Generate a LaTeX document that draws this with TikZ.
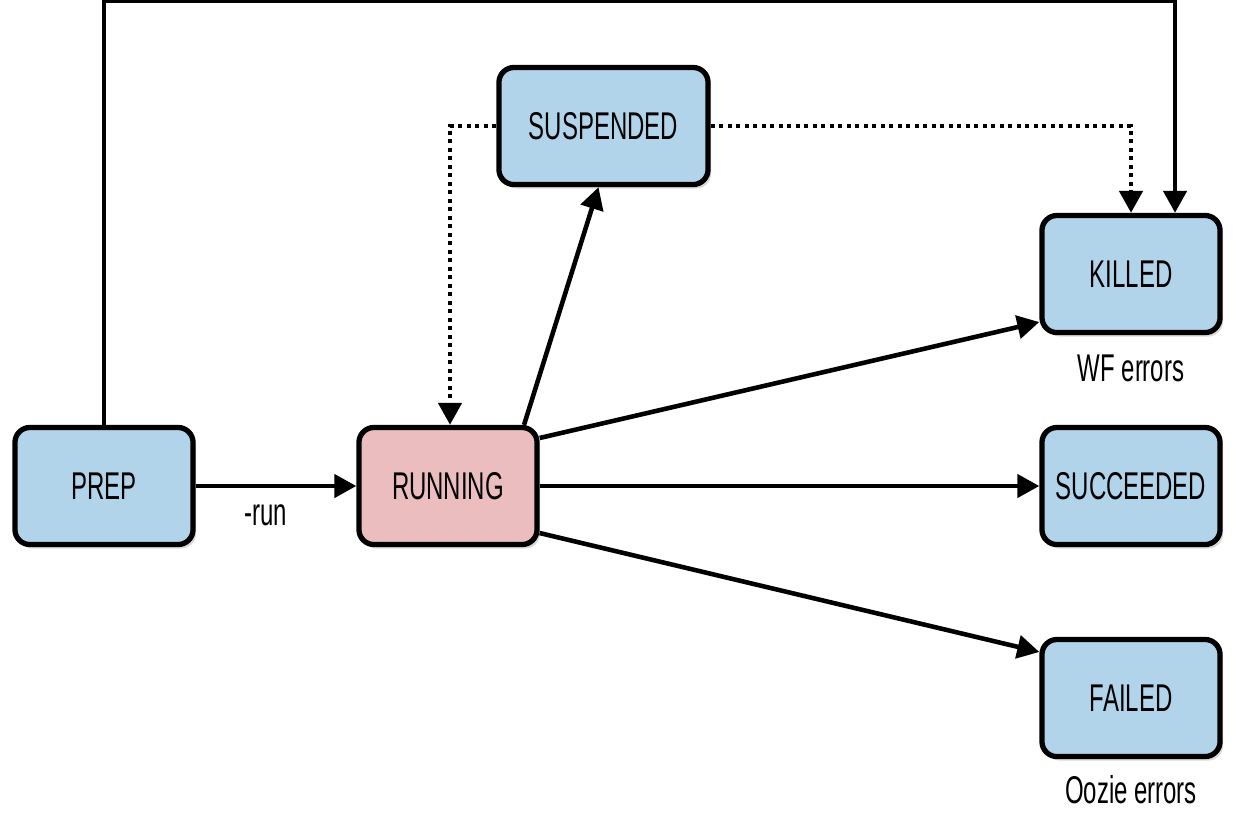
\documentclass[tikz,border=0pt]{standalone}
\usepackage{fontspec}
\setmainfont[FakeStretch=0.62]{Liberation Sans}
\usetikzlibrary{arrows.meta,shadows}

\definecolor{stateblue}{RGB}{177,212,234}
\definecolor{statepink}{RGB}{235,189,191}

\tikzset{
    state/.style={draw=black, line width=1.5pt, rounded corners=0.15cm,
        fill=stateblue, minimum width=1.78cm, minimum height=1.17cm,
        font=\fontsize{11}{13}\selectfont,
        drop shadow={shadow xshift=0.03cm, shadow yshift=-0.04cm, opacity=0.3}},
    flow/.style={line width=1.3pt, -{Triangle[length=0.22cm,width=0.23cm]}},
    dotflow/.style={flow, dash pattern=on 0.04cm off 0.045cm},
    note/.style={font=\fontsize{11}{13}\selectfont}
}

\begin{document}
\begin{tikzpicture}[x=0.01cm, y=-0.01cm]
    \useasboundingbox (0,0) rectangle (1249,814);

    \node[state] (PREP) at (104,486) {PREP};
    \node[state, fill=statepink] (RUNNING) at (448,486) {RUNNING};
    \node[state, minimum width=2.09cm] (SUSPENDED) at (603.5,126) {SUSPENDED};
    \node[state] (KILLED) at (1131,274) {KILLED};
    \node[state] (SUCCEEDED) at (1131,486) {SUCCEEDED};
    \node[state] (FAILED) at (1131,698) {FAILED};

    \node[note] (wf) at (1131,368) {WF errors};
    \node[note] (oozie) at (1131,790) {Oozie errors};

    % transitions
    \draw[flow] (PREP) -- node[note, below=0.05cm, xshift=-0.1cm] (run) {-run} (RUNNING);
    \draw[flow] (PREP.north) -- ++(0,-424) -| ([xshift=0.44cm]KILLED.north);
    \draw[flow] ([xshift=0.76cm]RUNNING.north) -- ([xshift=-0.05cm]SUSPENDED.south);
    \draw[dotflow] (SUSPENDED.west) -| ([xshift=0.02cm]RUNNING.north);
    \draw[dotflow] (SUSPENDED.east) -| (KILLED.north);
    \draw[flow] ([yshift=0.48cm]RUNNING.east) -- ([yshift=-0.48cm]KILLED.west);
    \draw[flow] (RUNNING) -- (SUCCEEDED);
    \draw[flow] ([yshift=-0.47cm]RUNNING.east) -- ([yshift=0.46cm]FAILED.west);
\end{tikzpicture}
\end{document}
